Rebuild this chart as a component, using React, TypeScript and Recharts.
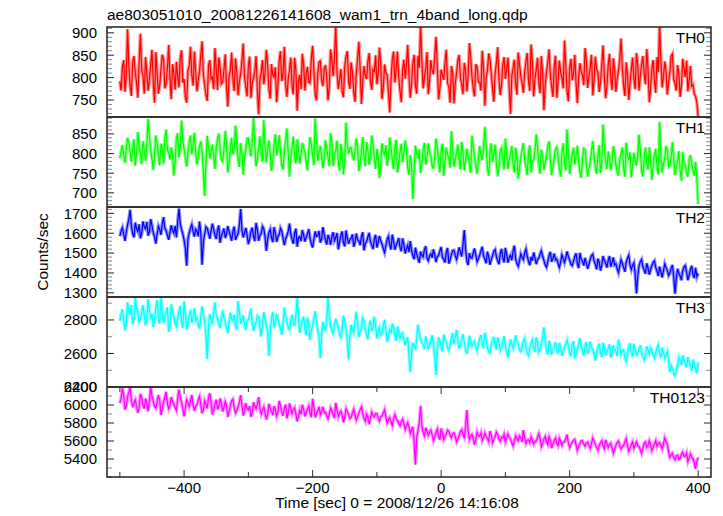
import { LineChart, Line, XAxis, YAxis } from "recharts"

// light curve bins: t = T_START + i * T_STEP (sec)
const T_START = -500
const T_STEP = 2

const th0 = [
  792, 771, 824, 839, 768, 805, 908, 826, 781, 759, 836, 848, 812, 787, 755, 833, 898, 817, 803, 764,
  846, 809, 771, 795, 829, 862, 790, 744, 857, 811, 764, 782, 818, 851, 842, 776, 786, 820, 873, 798,
  752, 830, 809, 773, 835, 801, 778, 843, 861, 789, 797, 756, 744, 817, 826, 869, 805, 782, 858, 813,
  769, 794, 814, 851, 881, 806, 783, 762, 748, 828, 839, 797, 801, 774, 866, 821, 772, 845, 823, 786,
  790, 818, 852, 779, 735, 803, 817, 856, 795, 770, 843, 812, 760, 791, 808, 837, 876, 801, 779, 758,
  826, 847, 754, 788, 799, 815, 848, 772, 718, 796, 811, 839, 785, 809, 862, 827, 774, 753, 830, 806,
  801, 823, 745, 782, 838, 859, 792, 810, 869, 784, 757, 798, 816, 845, 779, 763, 844, 816, 726, 792,
  806, 774, 853, 829, 771, 808, 824, 790, 788, 842, 871, 817, 762, 749, 810, 835, 837, 795, 781, 819,
  828, 802, 749, 781, 863, 838, 803, 846, 915, 811, 774, 797, 819, 768, 756, 825, 847, 859, 792, 775,
  834, 812, 768, 746, 811, 843, 880, 819, 741, 789, 826, 804, 797, 836, 855, 792, 773, 818, 814, 850,
  785, 809, 867, 831, 752, 777, 829, 811, 806, 768, 722, 794, 841, 858, 789, 816, 858, 802, 770, 745,
  817, 840, 798, 826, 873, 803, 755, 786, 832, 851, 781, 764, 849, 822, 916, 839, 776, 800, 821, 857,
  763, 792, 839, 815, 808, 845, 891, 827, 751, 774, 818, 806, 795, 833, 862, 788, 779, 744, 826, 811,
  742, 787, 810, 838, 851, 799, 786, 763, 833, 816, 769, 802, 877, 847, 801, 775, 758, 830, 824, 791,
  790, 771, 860, 821, 737, 798, 815, 854, 842, 809, 775, 746, 808, 833, 868, 795, 761, 785, 829, 846,
  797, 818, 845, 776, 719, 803, 821, 840, 784, 762, 856, 829, 803, 788, 766, 812, 836, 855, 792, 770,
  874, 836, 758, 797, 817, 844, 789, 765, 848, 809, 727, 783, 812, 835, 863, 804, 780, 757, 825, 849,
  755, 791, 838, 812, 801, 776, 883, 825, 770, 747, 819, 842, 794, 808, 851, 787, 743, 799, 832, 814,
  806, 783, 866, 839, 777, 802, 823, 851, 760, 794, 847, 818, 811, 768, 789, 826, 872, 805, 754, 781,
  828, 853, 799, 772, 843, 816, 768, 797, 815, 841, 887, 820, 782, 759, 834, 806, 750, 788, 818, 845,
  797, 774, 855, 827, 771, 803, 829, 848, 808, 785, 864, 819, 745, 776, 822, 839, 791, 766, 846, 812,
  918, 837, 778, 801, 836, 815, 762, 789, 813, 848, 853, 796, 787, 771, 828, 809, 757, 782, 842, 819,
  801, 838, 769, 795, 826, 781, 784, 763, 758, 744, 712,
]

const th1 = [
  788, 806, 821, 794, 776, 815, 840, 827, 803, 779, 812, 836, 769, 798, 855, 819, 797, 773, 832, 810,
  781, 824, 888, 842, 809, 787, 758, 801, 846, 829, 794, 770, 825, 813, 773, 836, 861, 808, 802, 785,
  816, 795, 744, 779, 838, 852, 790, 815, 884, 834, 811, 789, 767, 804, 829, 846, 798, 821, 853, 803,
  772, 796, 817, 831, 806, 754, 692, 778, 845, 817, 788, 805, 823, 792, 761, 818, 836, 851, 809, 784,
  780, 811, 858, 823, 752, 774, 819, 840, 797, 812, 871, 829, 784, 766, 826, 803, 746, 791, 812, 838,
  839, 816, 793, 828, 890, 821, 768, 785, 815, 844, 801, 779, 885, 817, 777, 809, 833, 798, 756, 782,
  822, 849, 795, 811, 847, 806, 770, 759, 808, 832, 864, 801, 741, 787, 818, 843, 789, 775, 836, 812,
  774, 798, 827, 815, 802, 779, 757, 806, 842, 823, 796, 771, 889, 830, 781, 805, 819, 792, 763, 788,
  834, 811, 790, 768, 852, 826, 768, 795, 806, 833, 778, 756, 824, 803, 747, 781, 879, 820, 799, 814,
  815, 794, 783, 807, 838, 819, 755, 773, 809, 842, 792, 768, 829, 806, 771, 793, 846, 824, 786, 761,
  812, 789, 738, 770, 826, 805, 797, 821, 769, 787, 841, 816, 784, 760, 818, 835, 752, 779, 803, 825,
  778, 801, 833, 809, 764, 746, 796, 772, 684, 758, 820, 799, 787, 811, 751, 776, 809, 827, 772, 790,
  826, 803, 794, 769, 761, 792, 838, 812, 779, 752, 806, 825, 743, 780, 815, 797, 788, 764, 857, 809,
  766, 785, 801, 823, 784, 760, 829, 804, 757, 779, 812, 793, 775, 751, 846, 817, 790, 769, 748, 783,
  819, 797, 783, 812, 868, 821, 765, 744, 801, 826, 779, 796, 823, 774, 742, 768, 807, 814, 786, 759,
  838, 804, 761, 783, 798, 819, 774, 752, 815, 790, 736, 767, 791, 809, 827, 783, 768, 745, 804, 821,
  752, 779, 785, 806, 849, 817, 772, 748, 810, 793, 759, 776, 794, 818, 831, 787, 745, 766, 789, 811,
  816, 792, 763, 741, 801, 826, 778, 757, 861, 803, 748, 771, 796, 815, 772, 790, 820, 779, 754, 738,
  787, 812, 809, 770, 741, 762, 779, 805, 832, 791, 766, 748, 798, 821, 751, 776, 874, 817, 783, 760,
  805, 788, 758, 779, 819, 801, 771, 753, 744, 787, 797, 816, 762, 741, 828, 794, 785, 803, 739, 767,
  802, 781, 770, 796, 848, 809, 757, 742, 791, 815, 776, 759, 816, 788, 733, 769, 795, 812, 764, 747,
  881, 798, 751, 774, 787, 819, 809, 766, 768, 790, 829, 784, 745, 763, 782, 806, 757, 731, 803, 776,
  772, 749, 741, 785, 796, 771, 758, 743, 779, 736, 672,
]

const th2 = [
  1585, 1612, 1628, 1594, 1561, 1606, 1642, 1671, 1718, 1633, 1597, 1579, 1653, 1624, 1609, 1645, 1574, 1598, 1660, 1631,
  1622, 1657, 1588, 1607, 1671, 1639, 1603, 1581, 1548, 1596, 1635, 1618, 1592, 1649, 1681, 1626, 1613, 1590, 1567, 1604,
  1640, 1615, 1601, 1637, 1579, 1655, 1724, 1648, 1618, 1597, 1565, 1524, 1437, 1572, 1602, 1626, 1644, 1609, 1583, 1620,
  1611, 1584, 1659, 1601, 1442, 1558, 1596, 1632, 1625, 1599, 1573, 1612, 1648, 1619, 1590, 1571, 1617, 1639, 1552, 1586,
  1603, 1624, 1576, 1595, 1636, 1611, 1588, 1562, 1610, 1633, 1567, 1584, 1598, 1641, 1722, 1616, 1579, 1601, 1627, 1592,
  1545, 1573, 1609, 1628, 1586, 1560, 1652, 1617, 1562, 1589, 1597, 1634, 1623, 1581, 1511, 1568, 1604, 1620, 1578, 1555,
  1631, 1602, 1556, 1583, 1594, 1626, 1612, 1574, 1540, 1571, 1588, 1609, 1649, 1596, 1569, 1547, 1601, 1623, 1532, 1578,
  1583, 1560, 1616, 1592, 1558, 1579, 1597, 1621, 1574, 1546, 1528, 1569, 1609, 1584, 1587, 1612, 1553, 1571, 1631, 1594,
  1566, 1543, 1592, 1571, 1541, 1584, 1605, 1563, 1578, 1601, 1519, 1556, 1588, 1609, 1552, 1534, 1614, 1577, 1546, 1568,
  1575, 1594, 1532, 1553, 1598, 1566, 1561, 1540, 1583, 1605, 1514, 1549, 1557, 1581, 1602, 1558, 1539, 1520, 1571, 1592,
  1528, 1553, 1586, 1562, 1546, 1522, 1503, 1537, 1569, 1584, 1541, 1518, 1593, 1560, 1517, 1540, 1555, 1576, 1530, 1509,
  1574, 1544, 1498, 1521, 1539, 1505, 1561, 1512, 1486, 1469, 1527, 1496, 1472, 1451, 1508, 1489, 1481, 1517, 1535, 1474,
  1462, 1485, 1497, 1476, 1519, 1493, 1455, 1481, 1488, 1510, 1531, 1478, 1470, 1452, 1504, 1526, 1447, 1466, 1492, 1513,
  1514, 1487, 1468, 1495, 1529, 1506, 1483, 1541, 1616, 1522, 1461, 1440, 1499, 1478, 1475, 1503, 1523, 1489, 1456, 1471,
  1490, 1511, 1532, 1486, 1469, 1449, 1507, 1484, 1441, 1467, 1486, 1509, 1518, 1482, 1463, 1444, 1498, 1521, 1477, 1453,
  1526, 1493, 1452, 1478, 1489, 1464, 1511, 1537, 1470, 1447, 1434, 1462, 1496, 1479, 1467, 1501, 1520, 1486, 1458, 1439,
  1481, 1462, 1503, 1476, 1445, 1468, 1474, 1495, 1512, 1484, 1463, 1441, 1429, 1457, 1488, 1506, 1456, 1473, 1497, 1466,
  1470, 1449, 1428, 1455, 1491, 1473, 1452, 1476, 1509, 1482, 1466, 1443, 1437, 1460, 1482, 1499, 1447, 1425, 1501, 1469,
  1459, 1437, 1476, 1451, 1421, 1444, 1468, 1487, 1494, 1461, 1443, 1418, 1472, 1455, 1412, 1439, 1485, 1463, 1450, 1427,
  1463, 1485, 1431, 1452, 1478, 1440, 1446, 1421, 1402, 1435, 1467, 1449, 1428, 1406, 1455, 1474, 1489, 1442, 1417, 1438,
  1451, 1394, 1297, 1382, 1436, 1457, 1468, 1431, 1414, 1396, 1449, 1425, 1392, 1416, 1438, 1453, 1461, 1427, 1409, 1385,
  1432, 1405, 1378, 1411, 1446, 1428, 1413, 1387, 1399, 1424, 1440, 1381, 1296, 1372, 1421, 1398, 1385, 1363, 1412, 1430,
  1437, 1402, 1364, 1389, 1418, 1436, 1391, 1374, 1426, 1381, 1398,
]

const th3 = [
  2795, 2841, 2862, 2807, 2738, 2786, 2905, 2853, 2831, 2889, 2774, 2812, 2937, 2868, 2846, 2791, 2802, 2850, 2889, 2824,
  2768, 2799, 2924, 2857, 2815, 2836, 2757, 2801, 2871, 2920, 2808, 2779, 2936, 2843, 2782, 2814, 2847, 2876, 2729, 2772,
  2893, 2845, 2818, 2782, 2761, 2809, 2854, 2883, 2797, 2751, 2911, 2832, 2743, 2790, 2826, 2859, 2784, 2817, 2869, 2798,
  2812, 2774, 2748, 2823, 2880, 2839, 2791, 2712, 2566, 2758, 2835, 2806, 2773, 2842, 2906, 2827, 2804, 2781, 2752, 2796,
  2858, 2817, 2781, 2749, 2722, 2788, 2843, 2809, 2797, 2830, 2765, 2742, 2912, 2851, 2776, 2803, 2829, 2768, 2741, 2795,
  2801, 2837, 2867, 2790, 2734, 2766, 2788, 2824, 2819, 2757, 2702, 2781, 2846, 2802, 2769, 2731, 2585, 2726, 2812, 2845,
  2756, 2788, 2836, 2807, 2779, 2744, 2713, 2769, 2874, 2821, 2790, 2758, 2742, 2797, 2831, 2786, 2764, 2829, 2935, 2812,
  2723, 2761, 2797, 2819, 2748, 2709, 2815, 2783, 2681, 2738, 2770, 2806, 2852, 2779, 2736, 2694, 2573, 2712, 2789, 2758,
  2744, 2802, 2931, 2824, 2761, 2735, 2718, 2770, 2807, 2781, 2752, 2716, 2689, 2748, 2826, 2793, 2737, 2671, 2564, 2704,
  2771, 2742, 2725, 2787, 2849, 2774, 2698, 2729, 2756, 2812, 2793, 2747, 2712, 2683, 2768, 2796, 2734, 2758, 2819, 2766,
  2689, 2731, 2753, 2712, 2726, 2768, 2801, 2744, 2668, 2705, 2741, 2719, 2779, 2752, 2707, 2676, 2762, 2728, 2693, 2716,
  2722, 2684, 2648, 2679, 2697, 2583, 2488, 2611, 2664, 2642, 2631, 2690, 2772, 2718, 2689, 2662, 2655, 2627, 2701, 2673,
  2624, 2653, 2677, 2709, 2651, 2582, 2472, 2618, 2696, 2671, 2640, 2613, 2712, 2686, 2668, 2637, 2617, 2655, 2690, 2722,
  2655, 2694, 2739, 2671, 2629, 2652, 2681, 2716, 2663, 2620, 2598, 2647, 2706, 2678, 2644, 2662, 2672, 2637, 2615, 2658,
  2687, 2710, 2659, 2631, 2724, 2683, 2636, 2609, 2603, 2651, 2678, 2699, 2650, 2624, 2695, 2667, 2622, 2641, 2668, 2703,
  2641, 2612, 2577, 2630, 2683, 2655, 2634, 2668, 2708, 2676, 2659, 2621, 2612, 2645, 2671, 2690, 2628, 2599, 2587, 2633,
  2662, 2681, 2635, 2608, 2697, 2659, 2609, 2627, 2648, 2703, 2756, 2672, 2621, 2594, 2675, 2650, 2594, 2617, 2644, 2668,
  2618, 2597, 2663, 2639, 2586, 2611, 2637, 2658, 2679, 2642, 2605, 2583, 2652, 2674, 2571, 2602, 2629, 2656, 2691, 2647,
  2613, 2588, 2645, 2668, 2596, 2620, 2671, 2633, 2624, 2597, 2558, 2601, 2637, 2659, 2605, 2579, 2664, 2638, 2589, 2612,
  2630, 2654, 2576, 2599, 2648, 2627, 2612, 2585, 2683, 2641, 2597, 2618, 2621, 2574, 2553, 2596, 2639, 2662, 2608, 2581,
  2659, 2628, 2584, 2607, 2625, 2649, 2601, 2578, 2562, 2594, 2643, 2619, 2598, 2632, 2617, 2590, 2571, 2603, 2634, 2652,
  2598, 2575, 2634, 2609, 2571, 2594, 2612, 2553, 2489, 2527, 2512, 2480, 2468, 2503, 2531, 2574, 2556, 2529, 2589, 2561,
  2541, 2517, 2578, 2552, 2526, 2498, 2563, 2536, 2508, 2482, 2549,
]

const th0123 = [
  6020, 6071, 6185, 6104, 5948, 5992, 6090, 6143, 6196, 6052, 5975, 6028, 6058, 5986, 5912, 5967, 6124, 6079, 6003, 5961,
  6072, 6015, 5930, 6046, 6198, 6097, 6041, 5984, 5967, 6032, 6110, 6061, 5889, 5953, 6033, 6088, 6147, 6019, 5958, 5996,
  6086, 6044, 6012, 5973, 5941, 6068, 6171, 6083, 6025, 5958, 5874, 5969, 6058, 6021, 5983, 6049, 6112, 6005, 5936, 5982,
  6004, 6057, 6093, 5996, 5908, 5950, 6047, 6011, 5962, 6084, 6130, 6038, 5895, 5942, 6016, 6059, 5951, 5989, 6072, 6021,
  5928, 5974, 6038, 6002, 5867, 5931, 5990, 6046, 6064, 5967, 5912, 5944, 5979, 6035, 6109, 5993, 5884, 5926, 6021, 5959,
  5946, 5988, 5870, 5912, 6031, 5985, 5958, 6007, 6087, 5962, 5901, 5939, 5976, 5913, 5839, 5897, 6012, 5968, 5929, 5887,
  5988, 5947, 5876, 5921, 6046, 5993, 5923, 5881, 5961, 6004, 5852, 5906, 6018, 5962, 5904, 5948, 5970, 5899, 5818, 5873,
  5941, 5896, 6002, 5958, 5873, 5917, 5956, 5989, 5911, 5864, 6068, 5975, 5862, 5903, 5937, 5981, 5893, 5928, 5980, 5915,
  5918, 5874, 5847, 5902, 5965, 5931, 5889, 5856, 6024, 5947, 5871, 5910, 5932, 5886, 5808, 5861, 5957, 5924, 5896, 5851,
  5862, 5913, 5951, 5889, 5834, 5871, 5910, 5946, 5978, 5903, 5852, 5819, 5897, 5864, 5786, 5842, 5921, 5885, 5868, 5903,
  5904, 5857, 5823, 5869, 5876, 5911, 5948, 5862, 5801, 5836, 5859, 5814, 5772, 5845, 5893, 5851, 5826, 5791, 5769, 5815,
  5842, 5796, 5731, 5767, 5803, 5751, 5684, 5722, 5758, 5589, 5337, 5641, 5712, 5806, 5990, 5763, 5695, 5659, 5748, 5702,
  5662, 5697, 5720, 5668, 5603, 5645, 5694, 5731, 5651, 5614, 5739, 5686, 5617, 5652, 5678, 5721, 5708, 5663, 5636, 5681,
  5689, 5648, 5592, 5627, 5661, 5702, 5724, 5673, 5640, 5759, 5943, 5704, 5615, 5654, 5672, 5629, 5558, 5621, 5697, 5659,
  5653, 5691, 5604, 5637, 5688, 5652, 5627, 5594, 5710, 5668, 5581, 5619, 5646, 5698, 5669, 5623, 5598, 5641, 5633, 5674,
  5592, 5631, 5676, 5642, 5619, 5581, 5545, 5602, 5658, 5624, 5603, 5657, 5637, 5589, 5721, 5644, 5574, 5608, 5612, 5583,
  5647, 5609, 5566, 5594, 5601, 5638, 5679, 5625, 5538, 5573, 5622, 5651, 5589, 5560, 5648, 5612, 5521, 5567, 5604, 5633,
  5575, 5548, 5630, 5597, 5553, 5586, 5592, 5624, 5671, 5579, 5528, 5563, 5584, 5609, 5617, 5558, 5496, 5541, 5569, 5602,
  5603, 5568, 5542, 5579, 5588, 5551, 5519, 5573, 5634, 5596, 5561, 5529, 5497, 5548, 5580, 5603, 5547, 5516, 5612, 5571,
  5530, 5561, 5576, 5523, 5468, 5509, 5551, 5584, 5598, 5547, 5512, 5538, 5549, 5591, 5627, 5552, 5486, 5521, 5558, 5589,
  5521, 5557, 5590, 5546, 5539, 5502, 5463, 5518, 5574, 5589, 5528, 5553, 5602, 5561, 5495, 5532, 5566, 5603, 5541, 5574,
  5583, 5547, 5512, 5569, 5634, 5592, 5558, 5481, 5420, 5447, 5463, 5414, 5392, 5436, 5441, 5398, 5408, 5452, 5476, 5429,
  5432, 5468, 5371, 5409, 5455, 5421, 5402, 5357, 5289, 5376, 5418,
]

const xTicks = [-500, -400, -300, -200, -100, 0, 100, 200, 300, 400]
const xLabels = [-400, -200, 0, 200, 400]

const FONT = "'Liberation Sans', Arial, Helvetica, sans-serif"
const PLOT_L = 107
const PLOT_R = 711
const PLOT_TOP = 27
const PANEL_H = 90

type Panel = {
  name: string
  values: number[]
  color: string
  light: string
  domain: [number, number]
  labels: number[]
  minor: number
}

const panels: Panel[] = [
  { name: "TH0", values: th0, color: "#ff0000", light: "#ff9090", domain: [712, 913], labels: [750, 800, 850, 900], minor: 10 },
  { name: "TH1", values: th1, color: "#00ff00", light: "#90ff90", domain: [664, 893], labels: [700, 750, 800, 850], minor: 10 },
  { name: "TH2", values: th2, color: "#0000ff", light: "#9090ff", domain: [1279, 1732], labels: [1300, 1400, 1500, 1600, 1700], minor: 20 },
  { name: "TH3", values: th3, color: "#00ffff", light: "#90ffff", domain: [2400, 2937], labels: [2400, 2600, 2800], minor: 100 },
  { name: "TH0123", values: th0123, color: "#ff00ff", light: "#ff90ff", domain: [5200, 6200], labels: [5400, 5600, 5800, 6000, 6200], minor: 100 },
]

function tickList(domain: [number, number], step: number) {
  const out: number[] = []
  for (let v = Math.ceil(domain[0] / step) * step; v <= domain[1]; v += step) out.push(v)
  return out
}

function YTick(props: any) {
  const { y, payload, labels } = props
  const major = labels.includes(payload.value)
  const len = major ? 7 : 5
  const stroke = major ? "#222" : "#888"
  return (
    <g>
      <line x1={PLOT_L} x2={PLOT_L + len} y1={y} y2={y} stroke={stroke} />
      <line x1={PLOT_R - len} x2={PLOT_R} y1={y} y2={y} stroke={stroke} />
      {major && (
        <text x={97} y={y} dy="0.36em" textAnchor="end" fontSize={15} fontFamily={FONT} fill="#000">
          {payload.value}
        </text>
      )}
    </g>
  )
}

function XTick(props: any) {
  const { x, payload, showLabel } = props
  const major = xLabels.includes(payload.value)
  const len = major ? 7 : 5
  const y = PANEL_H
  return (
    <g>
      <line x1={x} x2={x} y1={y} y2={y - len} stroke="#333" />
      <line x1={x} x2={x} y1={0} y2={len} stroke="#333" />
      {showLabel && major && (
        <text x={x} y={y + 16} textAnchor="middle" fontSize={15} fontFamily={FONT} fill="#000">
          {payload.value < 0 ? `\u2212${-payload.value}` : payload.value}
        </text>
      )}
    </g>
  )
}

function PanelChart({ p, index, last }: { p: Panel; index: number; last: boolean }) {
  const data = p.values.map((v, i) => ({ t: T_START + i * T_STEP, v }))
  const axisH = last ? 30 : 0
  return (
    <div style={{ position: "absolute", left: 0, top: PLOT_TOP + index * PANEL_H }}>
      <LineChart width={723} height={PANEL_H + axisH} data={data} margin={{ top: 0, right: 723 - PLOT_R, bottom: 0, left: 0 }}>
        <XAxis
          dataKey="t"
          type="number"
          domain={[-520, 420]}
          ticks={xTicks}
          interval={0}
          height={axisH}
          tickSize={0}
          tickMargin={0}
          axisLine={false}
          tickLine={false}
          allowDataOverflow
          tick={(tp: any) => <XTick {...tp} showLabel={last} />}
        />
        <YAxis
          type="number"
          width={PLOT_L}
          domain={p.domain}
          ticks={tickList(p.domain, p.minor)}
          interval={0}
          allowDataOverflow
          axisLine={false}
          tickLine={false}
          tick={(tp: any) => <YTick {...tp} labels={p.labels} />}
        />
        <Line dataKey="v" stroke={p.light} strokeWidth={3.5} dot={false} isAnimationActive={false} />
        <Line dataKey="v" stroke={p.color} strokeWidth={1.2} dot={false} isAnimationActive={false} />
      </LineChart>
    </div>
  )
}

export default function App() {
  const bottom = PLOT_TOP + PANEL_H * panels.length
  return (
    <div style={{ position: "absolute", left: 0, top: 0, width: 723, height: 516, background: "#fff", fontFamily: FONT }}>
      <style>{"svg { overflow: visible; }"}</style>
      {panels.map((p, i) => (
        <PanelChart key={p.name} p={p} index={i} last={i === panels.length - 1} />
      ))}
      <svg width={723} height={516} style={{ position: "absolute", left: 0, top: 0, pointerEvents: "none" }}>
        <rect x={PLOT_L} y={PLOT_TOP} width={PLOT_R - PLOT_L} height={bottom - PLOT_TOP} fill="none" stroke="#222" strokeWidth={1.5} />
        {panels.slice(1).map((p, i) => (
          <line key={p.name} x1={PLOT_L} x2={PLOT_R} y1={PLOT_TOP + (i + 1) * PANEL_H} y2={PLOT_TOP + (i + 1) * PANEL_H} stroke="#333" strokeWidth={2} />
        ))}
        {panels.map((p, i) => (
          <text key={p.name} x={705} y={PLOT_TOP + i * PANEL_H + 16} textAnchor="end" fontSize={15.5} fontFamily={FONT} fill="#000">
            {p.name}
          </text>
        ))}
        <text x={PLOT_L} y={20} fontSize={15.5} fontFamily={FONT} fill="#000">
          ae803051010_20081226141608_wam1_trn_4band_long.qdp
        </text>
        <text x={397} y={508} textAnchor="middle" fontSize={15.5} fontFamily={FONT} fill="#000">
          Time [sec] 0 = 2008/12/26 14:16:08
        </text>
        <text transform="translate(48,252) rotate(-90)" textAnchor="middle" fontSize={15.5} fontFamily={FONT} fill="#000">
          Counts/sec
        </text>
      </svg>
    </div>
  )
}
